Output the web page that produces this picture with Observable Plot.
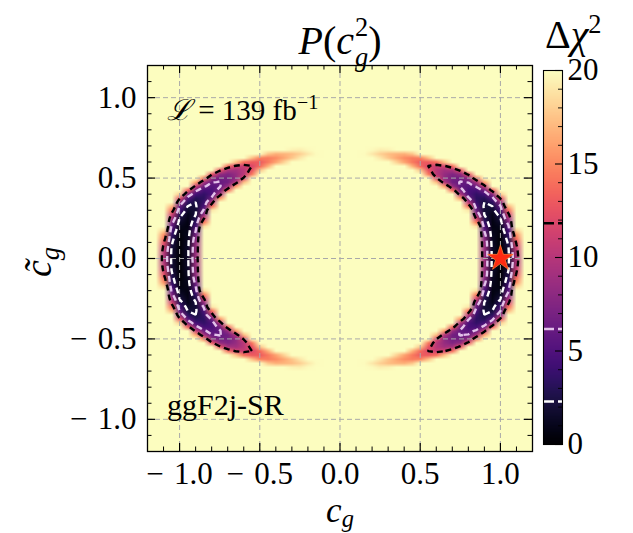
<!DOCTYPE html>
<html><head><meta charset="utf-8">
<script src="https://cdn.jsdelivr.net/npm/d3@7"></script>
<script src="https://cdn.jsdelivr.net/npm/@observablehq/plot@0.6"></script>
<style>
body{margin:0;background:#fff;}
#wrap{position:relative;width:633px;height:533px;overflow:hidden;font-family:"Liberation Serif","DejaVu Serif",serif;color:#000;background:#fff;}
#wrap svg{position:absolute;}
.t{position:absolute;white-space:nowrap;line-height:1;}
.i{font-style:italic;}
.ss{display:inline-block;vertical-align:-0.45em;font-size:0.66em;line-height:1.15;text-align:left;margin-left:1px;}
.ss span{display:block;}
</style></head><body><div id="wrap">
<div class="t" style="left:0;width:680px;top:12px;font-size:40px;text-align:center"><span class="i">P</span>(<span class="i">c</span><span class="ss"><span>2</span><span class="i">g</span></span>)</div>
<div class="t" style="left:545px;top:11px;font-size:40px;">Δ<span class="i">χ</span><span style="font-size:0.66em;vertical-align:0.55em">2</span></div>
<div class="t" style="left:167px;top:92px;font-size:29px;"><span class="i">ℒ</span> = 139 fb<span style="font-size:0.7em;vertical-align:0.55em">−1</span></div>
<div class="t" style="left:167px;top:390px;font-size:30px;">ggF2j-SR</div>
<div class="t" style="left:0;width:680px;top:492.7px;font-size:35px;text-align:center"><span class="i">c</span><span class="i" style="font-size:0.7em;vertical-align:-0.2em">g</span></div>
<div class="t" style="left:41px;top:262px;font-size:38px;transform:translate(-50%,-50%) rotate(-90deg);"><span class="i">c̃</span><span class="i" style="font-size:0.7em;vertical-align:-0.3em">g</span></div>
</div>
<script>
// ---- data ----
// quarter grid (c_g >= 0, c~_g >= 0), mirrored by symmetry
const cgStepList = [0,0.05,0.1,0.15,0.2,0.25,0.3,0.35,0.4,0.45,0.5,0.55,0.6,0.65,0.7,0.75,0.8,0.85,0.9,0.95,1.0,1.05,1.1,1.15,1.2];
const ctQuarter = [0,0.025,0.05,0.075,0.1,0.125,0.15,0.175,0.2,0.225,0.25,0.275,0.3,0.325,0.35,0.375,0.4,0.425,0.45,0.475,0.5,0.525,0.55,0.575,0.6,0.625,0.65,0.675,0.7];
// first c_g index (in cgStepList) of the listed values of each row; other cells are saturated (20)
const rowStart = [18,18,18,18,18,18,18,18,17,17,17,17,16,16,16,15,15,14,13,12,12,11,10,9,7,5,3,4,0];
const rowValues = [
 [9.1,1.7,0.0,1.8,9.7],
 [8.8,1.6,0.0,1.9,9.9],
 [8.8,1.6,0.0,2.0,10.5],
 [8.6,1.5,0.1,2.3,11.3],
 [8.4,1.4,0.1,2.6,12.3],
 [7.8,1.2,0.2,3.1,14.1],
 [6.9,1.1,0.4,3.6,15.5],
 [5.9,0.9,0.6,4.6,18.2],
 [18.7,4.8,0.7,1.0,5.8],
 [14.5,3.6,0.7,1.5,7.3],
 [11.2,2.8,0.8,2.2,9.2],
 [8.4,2.2,1.0,3.1,11.2],
 [19.1,6.4,2.0,1.6,4.4,13.9],
 [13.9,4.8,2.0,2.3,6.0,17.0],
 [10.1,3.9,2.3,3.4,8.3],
 [15.6,6.6,3.4,3.1,5.3,12.2],
 [9.6,4.9,3.6,4.5,8.2,17.9],
 [13.6,7.0,4.7,4.6,6.9,13.2],
 [15.6,8.6,5.9,5.3,6.6,10.8],
 [17.2,9.9,6.7,6.1,6.3,9.3,16.1],
 [12.1,8.2,6.9,6.6,8.2,14.6],
 [14.3,10.2,8.5,7.4,8.4,12.6],
 [17.5,12.6,10.2,9.1,9.4,12.6],
 [16.7,13.7,11.8,10.9,11.5,13.8],
 [18.2,16.1,14.4,13.0,13.1,14.0,17.4],
 [19.0,17.6,16.3,15.2,14.6,14.8,17.4],
 [19.9,19.0,18.0,17.2,16.8,16.7,17.6],
 [19.8,19.3,19.5],
 []
];
const saturation = 20;
const levels = [2.3, 6.18, 11.83];
const levelColors = ["#ffffff", "#e3c2ea", "#000000"];
const bestFit = [{cg: 1.0, ct: 0.0}];
const majorTicks = [-1, -0.5, 0, 0.5, 1];
const minorTicks = [-1.1,-0.9,-0.8,-0.7,-0.6,-0.4,-0.3,-0.2,-0.1,0.1,0.2,0.3,0.4,0.6,0.7,0.8,0.9,1.1];
const cbarMajor = [0, 5, 10, 15, 20];
const cbarMinor = [1,2,3,4,6,7,8,9,11,12,13,14,16,17,18,19];

// ---- full grid by mirroring the quarter ----
const nQ = ctQuarter.length - 1;
const nC = cgStepList.length - 1;
const W = 2 * nC + 1, H = 2 * nQ + 1;
const grid = [];
for (let r = 0; r < H; r++) {
  const k = Math.abs(nQ - r);
  for (let col = 0; col < W; col++) {
    const j = Math.abs(col - nC);
    const idx = j - rowStart[k];
    const v = rowValues[k];
    grid.push(idx >= 0 && idx < v.length ? v[idx] : saturation);
  }
}
const dc = cgStepList[1] - cgStepList[0], dt = ctQuarter[1] - ctQuarter[0];
const ext = {x1: -cgStepList[nC] - dc / 2, x2: cgStepList[nC] + dc / 2,
             y1: ctQuarter[nQ] + dt / 2, y2: -ctQuarter[nQ] - dt / 2};

const colorScale = {type: "linear", scheme: "magma", domain: [0, saturation], clamp: true};
const serif = '"Liberation Serif","DejaVu Serif",serif';
const plotW = 633 - 147 - 101, plotH = 533 - 65 - 82;
const f1 = d3.format(".1f");
const fmt = d => d < 0 ? "\u2212\u2004" + f1(-d) : f1(d);

const main = Plot.plot({
  width: 633, height: 533,
  marginLeft: 147, marginRight: 101, marginTop: 65, marginBottom: 82,
  x: {domain: [-1.2, 1.2]},
  y: {domain: [-1.2, 1.2]},
  color: colorScale,
  style: {fontFamily: serif, fontSize: "31px", background: "transparent", color: "#000"},
  marks: [
    Plot.frame({fill: d3.interpolateMagma(1), stroke: null}),
    Plot.raster(grid, {width: W, height: H, ...ext, fill: d => d, clip: true}),
    Plot.gridX(majorTicks, {stroke: "#a9a9a9", strokeOpacity: 1, strokeWidth: 1, strokeDasharray: "5,3"}),
    Plot.gridY(majorTicks, {stroke: "#a9a9a9", strokeOpacity: 1, strokeWidth: 1, strokeDasharray: "5,3"}),
    ...levels.map((t, i) => Plot.contour(grid, {width: W, height: H, ...ext, value: d => -d, thresholds: [-t],
      fill: "none", stroke: levelColors[i], strokeWidth: 2.4, strokeDasharray: "6,4", clip: true})),
    Plot.dot(bestFit, {x: "cg", y: "ct", symbol: "star", r: 8, fill: "#ff2a12", stroke: "#ff7a30", strokeWidth: 0.8}),
    Plot.frame({stroke: "#000", strokeWidth: 1.3}),
    Plot.tickX(majorTicks, {x: d => d, insetTop: plotH - 8, stroke: "#000", strokeWidth: 1.2}),
    Plot.tickX(majorTicks, {x: d => d, insetBottom: plotH - 8, stroke: "#000", strokeWidth: 1.2}),
    Plot.tickX(minorTicks, {x: d => d, insetTop: plotH - 4.5, stroke: "#000", strokeWidth: 1}),
    Plot.tickX(minorTicks, {x: d => d, insetBottom: plotH - 4.5, stroke: "#000", strokeWidth: 1}),
    Plot.tickY(majorTicks, {y: d => d, insetRight: plotW - 8, stroke: "#000", strokeWidth: 1.2}),
    Plot.tickY(majorTicks, {y: d => d, insetLeft: plotW - 8, stroke: "#000", strokeWidth: 1.2}),
    Plot.tickY(minorTicks, {y: d => d, insetRight: plotW - 4.5, stroke: "#000", strokeWidth: 1}),
    Plot.tickY(minorTicks, {y: d => d, insetLeft: plotW - 4.5, stroke: "#000", strokeWidth: 1}),
    Plot.axisX({ticks: majorTicks, tickSize: 0, tickPadding: 10.5, tickFormat: fmt, label: null, fontSize: 31}),
    Plot.axisY({ticks: majorTicks, tickSize: 0, tickPadding: 11, tickFormat: fmt, label: null, fontSize: 31})
  ]
});
main.style.left = "0px"; main.style.top = "0px";

const cbW = 19;
const cbar = Plot.plot({
  width: 113, height: 533,
  marginLeft: 23, marginRight: 113 - 23 - cbW, marginTop: 70, marginBottom: 89,
  x: {domain: [0, 1], axis: null},
  y: {domain: [0, saturation]},
  color: colorScale,
  style: {fontFamily: serif, fontSize: "31px", background: "transparent", color: "#000"},
  marks: [
    Plot.raster({x1: 0, x2: 1, y1: 0, y2: saturation, fill: (x, y) => y, pixelSize: 1}),
    ...levels.map((t, i) => Plot.ruleY([t], {stroke: levelColors[i], strokeWidth: 2.4, strokeDasharray: "11,4"})),
    Plot.tickY(cbarMajor, {y: d => d, insetLeft: cbW - 7, stroke: "#000", strokeWidth: 1.1}),
    Plot.tickY(cbarMinor, {y: d => d, insetLeft: cbW - 4, stroke: "#000", strokeWidth: 0.9}),
    Plot.frame({stroke: "#000", strokeWidth: 1.1}),
    Plot.axisY({anchor: "right", ticks: cbarMajor, tickSize: 0, tickPadding: 5, tickFormat: d => String(d), label: null, fontSize: 31})
  ]
});
cbar.style.left = "520px"; cbar.style.top = "0px";

const wrap = document.getElementById("wrap");
wrap.insertBefore(cbar, wrap.firstChild);
wrap.insertBefore(main, wrap.firstChild);
</script>
</body></html>
